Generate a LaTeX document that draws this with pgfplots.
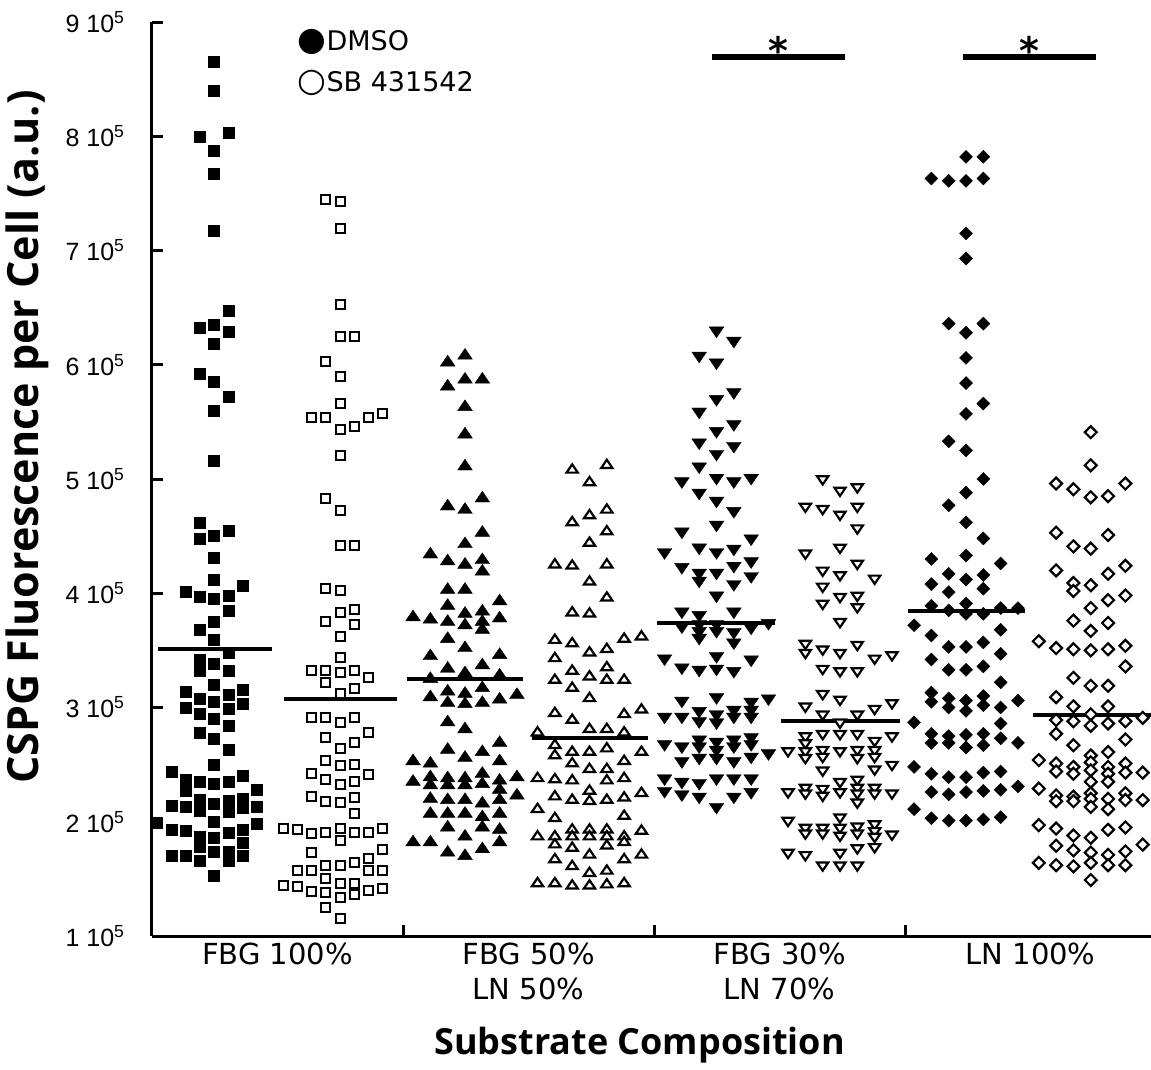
\documentclass[border=0pt]{standalone}
\usepackage{pgfplots}
\pgfplotsset{compat=1.18}
\usepackage{fontspec}
\setmainfont{DejaVu Sans}
\newfontfamily\helv{Liberation Sans}
\newfontfamily\osans{Open Sans}
\begin{document}
\begin{tikzpicture}
\useasboundingbox (-152pt,-133pt) rectangle (999pt,936pt);
\begin{axis}[
  at={(0pt,0pt)}, anchor=south west,
  scale only axis, width=999pt, height=914pt,
  xmin=0, xmax=3.98, ymin=1, ymax=9,
  clip=false,
  axis x line*=bottom, axis y line*=left,
  axis line style={-, line width=3pt},
  x axis line style={-}, y axis line style={-},
  tick align=inside,
  major tick length=11pt,
  tick style={line width=3pt, black},
  ytick={1,2,3,4,5,6,7,8,9},
  yticklabels={1 10\textsuperscript{5},2 10\textsuperscript{5},3 10\textsuperscript{5},4 10\textsuperscript{5},5 10\textsuperscript{5},6 10\textsuperscript{5},7 10\textsuperscript{5},8 10\textsuperscript{5},9 10\textsuperscript{5}},
  yticklabel style={font=\helv\fontsize{25}{28}\selectfont, xshift=-24pt},
  xtick={1,2,3}, xticklabels={,,},
  extra x ticks={0.5,1.5,2.5,3.5},
  extra x tick labels={FBG 100\%,{FBG 50\%\\LN 50\%},{FBG 30\%\\LN 70\%},LN 100\%},
  extra x tick style={major tick length=0pt},
  xticklabel style={align=center, font=\fontsize{29}{35}\selectfont, anchor=north, yshift=-3pt},
  ylabel={CSPG Fluorescence per Cell (a.u.)},
  ylabel style={font=\osans\bfseries\fontsize{43}{50}\selectfont, at={(axis description cs:-0.125,0.546)}, anchor=center},
  xlabel={Substrate Composition},
  xlabel style={font=\osans\bfseries\fontsize{36}{42}\selectfont, at={(axis description cs:0.488,-0.119)}, anchor=center},
]
% FBG 100% DMSO
\addplot[only marks, mark=square*, mark size=5.5pt, mark options={fill=black, draw=black}] table[x expr=\thisrow{k}*0.0566+0.247, y=v] {
k v
0 8.65
0 8.40
-1 8.00
1 8.03
0 7.87
0 7.67
0 7.17
1 6.47
-1 6.32
0 6.35
1 6.29
0 6.18
-1 5.92
0 5.85
1 5.72
0 5.60
0 5.16
-1 4.62
-1 4.48
0 4.50
1 4.55
0 4.31
0 4.12
2 4.07
-2 4.01
-1 3.97
0 3.95
1 3.98
1 3.85
0 3.75
-1 3.68
0 3.59
-1 3.42
1 3.48
-1 3.32
0 3.38
1 3.32
0 3.20
-2 3.14
2 3.16
-1 3.08
0 3.05
1 3.11
-2 3.00
-1 2.95
1 2.99
2 3.03
0 2.90
1 2.84
-1 2.78
0 2.73
1 2.63
0 2.50
-3 2.44
-2 2.37
-2 2.27
-1 2.35
0 2.33
1 2.35
2 2.40
3 2.28
-3 2.14
-2 2.13
-1 2.19
-1 2.10
0 2.16
1 2.18
1 2.09
2 2.20
2 2.12
3 2.13
0 2.00
-4 1.99
-3 1.93
-2 1.92
-1 1.87
0 1.86
1 1.90
2 1.93
3 1.98
-1 1.78
2 1.82
-3 1.70
-2 1.70
-1 1.66
0 1.74
1 1.74
1 1.66
2 1.70
0 1.53
};
% FBG 100% SB
\addplot[only marks, mark=square*, mark size=4.5pt, mark options={fill=white, draw=black, line width=2pt}] table[x expr=\thisrow{k}*0.0566+0.749, y=v] {
k v
-1 7.45
0 7.43
0 7.19
0 6.53
0 6.25
1 6.25
-1 6.03
0 5.90
0 5.66
-2 5.54
-1 5.54
0 5.43
1 5.46
2 5.54
3 5.57
0 5.21
-1 4.83
0 4.72
0 4.42
1 4.42
-1 4.04
0 4.02
0 3.83
1 3.86
-1 3.75
1 3.73
0 3.62
0 3.44
-2 3.32
-1 3.32
-1 3.22
0 3.31
1 3.32
1 3.17
2 3.26
0 3.12
-2 2.91
-1 2.91
0 2.87
1 2.91
2 2.78
-1 2.74
0 2.64
1 2.69
-1 2.54
0 2.49
1 2.50
-2 2.42
-1 2.37
0 2.33
1 2.35
2 2.41
-2 2.22
-1 2.18
0 2.17
1 2.21
1 2.07
-4 1.94
-3 1.93
-2 1.90
-1 1.91
0 1.94
0 1.84
1 1.91
2 1.91
3 1.94
-2 1.73
3 1.76
-1 1.62
0 1.62
1 1.64
2 1.68
-3 1.57
-2 1.57
2 1.57
3 1.57
-1 1.50
-4 1.44
-3 1.43
-2 1.39
-1 1.38
0 1.46
0 1.34
1 1.36
1 1.46
2 1.40
3 1.42
-1 1.25
0 1.15
};
% FBG 50% DMSO
\addplot[only marks, mark=triangle*, mark size=8.5pt, mark options={fill=black, draw=black, yscale=0.85}] table[x expr=\thisrow{k}*0.069+1.247, y=v] {
k v
0 6.08
-1 6.02
0 5.87
1 5.87
-1 5.81
0 5.63
0 5.39
0 5.11
1 4.83
-1 4.76
0 4.73
1 4.53
0 4.43
-2 4.34
-1 4.28
0 4.25
1 4.29
1 4.19
-1 4.03
0 4.03
-1 3.89
2 3.93
-3 3.79
-2 3.77
-1 3.75
0 3.82
0 3.72
1 3.84
1 3.75
1 3.68
2 3.78
-1 3.60
0 3.52
-2 3.45
2 3.46
1 3.37
-1 3.34
0 3.30
-2 3.25
2 3.28
-2 3.09
-1 3.14
-1 3.04
0 3.12
0 3.03
1 3.17
1 3.04
2 3.07
3 3.11
-1 2.87
0 2.81
-1 2.63
0 2.56
1 2.61
2 2.69
-3 2.53
-2 2.51
2 2.53
-3 2.35
-2 2.39
-2 2.32
-1 2.38
-1 2.32
0 2.38
0 2.32
1 2.42
1 2.33
2 2.36
2 2.28
3 2.39
-2 2.20
-1 2.19
0 2.19
1 2.16
2 2.19
3 2.23
-2 2.07
-1 2.07
0 2.07
1 2.04
2 2.07
-1 1.95
1 1.95
2 1.93
-3 1.82
-2 1.82
0 1.87
-1 1.73
0 1.70
1 1.76
2 1.82
};
% FBG 50% SB
\addplot[only marks, mark=triangle*, mark size=6.5pt, mark options={fill=white, draw=black, line width=2.2pt, yscale=0.85}] table[x expr=\thisrow{k}*0.069+1.743, y=v] {
k v
1 5.12
-1 5.08
0 4.97
1 4.73
0 4.68
-1 4.62
1 4.54
0 4.44
-2 4.25
-1 4.24
1 4.25
0 4.10
1 3.96
-1 3.83
0 3.82
-2 3.59
-1 3.56
0 3.48
1 3.51
2 3.60
3 3.62
-2 3.43
-1 3.32
0 3.27
1 3.35
1 3.24
2 3.24
-2 3.24
-1 3.17
0 3.08
-2 2.95
-1 2.89
2 2.94
3 2.98
-3 2.78
0 2.81
1 2.81
2 2.78
-2 2.67
-2 2.58
-1 2.61
0 2.61
1 2.64
2 2.53
3 2.61
-1 2.51
0 2.46
1 2.46
-3 2.38
-2 2.37
-1 2.36
1 2.36
2 2.38
-2 2.22
-1 2.19
0 2.27
0 2.18
1 2.19
2 2.21
3 2.25
-3 2.11
-2 2.03
2 2.05
-3 1.87
-2 1.87
-2 1.80
-1 1.93
-1 1.87
0 1.93
0 1.87
1 1.93
1 1.87
2 1.87
2 1.82
3 1.92
-1 1.77
1 1.79
-2 1.67
-1 1.61
0 1.71
2 1.67
3 1.71
0 1.55
1 1.57
-3 1.46
-2 1.46
-1 1.44
0 1.44
1 1.45
2 1.46
};
% FBG 30% DMSO
\addplot[only marks, mark=triangle*, mark size=8.5pt, mark options={fill=black, draw=black, rotate=180, yscale=0.85}] table[x expr=\thisrow{k}*0.069+2.249, y=v] {
k v
0 6.30
1 6.21
-1 6.08
0 6.02
1 5.76
0 5.70
-1 5.59
1 5.48
0 5.42
-1 5.32
1 5.29
0 5.22
-1 5.11
-2 4.98
0 5.01
1 4.98
2 5.01
-1 4.88
0 4.81
1 4.72
0 4.60
-2 4.54
2 4.48
-3 4.36
-1 4.40
0 4.36
1 4.39
-2 4.23
-1 4.18
-1 4.11
0 4.18
1 4.24
1 4.08
2 4.28
2 4.15
0 3.98
-2 3.84
-1 3.81
1 3.84
-2 3.71
-1 3.73
-1 3.67
-1 3.61
0 3.73
0 3.67
1 3.66
1 3.57
2 3.70
3 3.74
-3 3.43
-2 3.35
-1 3.33
0 3.45
0 3.34
1 3.32
2 3.42
-2 3.06
0 3.09
2 3.05
3 3.08
-3 2.92
-2 2.92
-1 2.97
-1 2.88
0 2.94
0 2.87
1 2.98
1 2.92
2 2.98
2 2.92
-3 2.68
-2 2.66
-1 2.72
-1 2.66
0 2.70
0 2.63
1 2.72
1 2.66
2 2.74
2 2.68
3 2.60
-2 2.53
-1 2.56
0 2.56
1 2.53
2 2.57
-3 2.38
-2 2.35
-1 2.34
0 2.38
1 2.38
2 2.38
-3 2.27
-2 2.24
-1 2.22
1 2.22
2 2.26
0 2.13
};
% FBG 30% SB
\addplot[only marks, mark=triangle*, mark size=6.5pt, mark options={fill=white, draw=black, line width=2.2pt, rotate=180, yscale=0.85}] table[x expr=\thisrow{k}*0.069+2.741, y=v] {
k v
-1 5.00
0 4.90
1 4.93
-2 4.76
-1 4.74
0 4.69
1 4.76
1 4.57
-2 4.35
0 4.40
-1 4.20
0 4.16
1 4.26
2 4.13
-1 4.06
-1 3.91
0 3.97
1 3.98
1 3.88
0 3.75
-2 3.56
-2 3.48
-1 3.51
0 3.48
1 3.55
2 3.43
3 3.46
-1 3.34
0 3.32
1 3.32
-1 3.12
-2 3.01
0 3.07
2 2.99
3 3.04
-1 2.94
1 2.94
0 2.87
-2 2.75
-2 2.69
-1 2.77
0 2.77
1 2.77
2 2.71
3 2.75
-3 2.62
-2 2.62
-2 2.56
-1 2.63
-1 2.57
0 2.62
1 2.63
1 2.56
2 2.63
2 2.57
3 2.50
-1 2.45
2 2.46
0 2.35
1 2.37
-3 2.26
-2 2.30
-2 2.25
-1 2.29
-1 2.23
0 2.26
1 2.30
1 2.25
2 2.30
2 2.25
3 2.25
1 2.17
-3 2.01
0 2.04
-2 1.95
-2 1.90
-1 1.95
-1 1.90
0 1.95
0 1.88
1 1.96
1 1.90
2 1.98
2 1.92
2 1.87
3 1.89
-3 1.73
-2 1.71
0 1.73
1 1.77
2 1.78
-1 1.62
0 1.62
1 1.62
};
% LN 100% DMSO
\addplot[only marks, mark=square*, mark size=4.6pt, mark options={fill=black, draw=black, rotate=45}] table[x expr=\thisrow{k}*0.069+3.243, y=v] {
k v
0 7.82
1 7.82
-2 7.63
-1 7.61
0 7.61
1 7.63
0 7.15
0 6.93
-1 6.36
0 6.28
1 6.36
0 6.06
0 5.84
0 5.57
1 5.66
-1 5.33
0 5.25
1 5.00
0 4.88
-1 4.77
0 4.62
1 4.48
-2 4.30
0 4.33
2 4.26
-1 4.17
0 4.12
1 4.16
-2 4.08
-1 4.01
1 4.04
-2 3.89
-1 3.85
0 3.91
0 3.82
1 3.82
2 3.87
3 3.87
-3 3.72
-2 3.63
2 3.68
-1 3.53
0 3.53
1 3.57
2 3.47
-2 3.42
-1 3.33
0 3.33
1 3.36
2 3.22
-2 3.13
-2 3.05
-1 3.08
-1 3.00
0 3.06
0 2.97
1 3.10
1 3.02
2 3.00
3 3.06
-3 2.87
2 2.86
-2 2.77
-2 2.69
-1 2.75
-1 2.69
0 2.76
0 2.65
1 2.77
1 2.67
2 2.73
3 2.69
-3 2.48
-2 2.42
-1 2.39
0 2.39
1 2.43
2 2.44
3 2.31
-2 2.26
-1 2.24
0 2.26
1 2.27
2 2.28
-3 2.11
-2 2.03
-1 2.01
0 2.01
1 2.02
2 2.04
};
% LN 100% SB
\addplot[only marks, mark=square*, mark size=4.2pt, mark options={fill=white, draw=black, line width=2.2pt, rotate=45}] table[x expr=\thisrow{k}*0.069+3.740, y=v] {
k v
0 5.41
0 5.12
-2 4.96
-1 4.91
0 4.84
1 4.85
2 4.96
-2 4.53
-1 4.41
0 4.39
1 4.51
-2 4.20
-1 4.09
-1 4.02
0 4.07
1 4.17
2 4.24
0 3.87
1 3.94
2 3.98
-1 3.76
0 3.67
1 3.74
-3 3.58
-2 3.52
-1 3.51
0 3.50
1 3.51
2 3.54
2 3.36
-1 3.26
0 3.19
1 3.19
-2 3.09
-1 3.01
1 3.01
0 2.94
-2 2.89
-1 2.88
0 2.84
1 2.86
2 2.88
3 2.91
-2 2.77
-1 2.67
2 2.72
0 2.58
1 2.61
-3 2.54
-2 2.51
-2 2.44
-1 2.48
-1 2.42
0 2.52
0 2.45
1 2.48
1 2.42
2 2.51
2 2.43
3 2.43
0 2.35
1 2.35
-3 2.29
-2 2.23
-2 2.18
-1 2.22
-1 2.18
0 2.25
0 2.20
1 2.20
2 2.25
2 2.19
3 2.19
0 2.13
1 2.11
-3 1.97
-2 1.94
-1 1.88
0 1.86
1 1.93
2 1.95
-2 1.79
-1 1.75
0 1.73
1 1.71
2 1.74
3 1.80
-3 1.64
-2 1.62
-1 1.61
0 1.64
1 1.62
2 1.62
0 1.49
};
% medians
\addplot[no marks, line width=3.8pt] coordinates {(0.024,3.51) (0.478,3.51)};
\addplot[no marks, line width=3.8pt] coordinates {(0.526,3.075) (0.976,3.075)};
\addplot[no marks, line width=3.8pt] coordinates {(1.016,3.25) (1.478,3.25)};
\addplot[no marks, line width=3.8pt] coordinates {(1.514,2.734) (1.976,2.734)};
\addplot[no marks, line width=3.8pt] coordinates {(2.012,3.741) (2.482,3.741)};
\addplot[no marks, line width=3.8pt] coordinates {(2.506,2.885) (2.980,2.885)};
\addplot[no marks, line width=3.8pt] coordinates {(3.012,3.846) (3.478,3.846)};
\addplot[no marks, line width=3.8pt] coordinates {(3.510,2.935) (3.980,2.935)};
% significance bars
\addplot[no marks, line width=6.5pt] coordinates {(2.231,8.694) (2.761,8.694)};
\addplot[no marks, line width=6.5pt] coordinates {(3.231,8.694) (3.761,8.694)};
\node[font=\bfseries\fontsize{38}{38}\selectfont, anchor=base] at (axis cs:2.496,8.63) {*};
\node[font=\bfseries\fontsize{38}{38}\selectfont, anchor=base] at (axis cs:3.496,8.63) {*};
% legend
\node[anchor=west, font=\fontsize{27}{30}\selectfont, inner sep=0pt] at (axis cs:0.58,8.825) {{\fontsize{33}{30}\selectfont ●}DMSO};
\node[anchor=west, font=\fontsize{27}{30}\selectfont, inner sep=0pt] at (axis cs:0.58,8.466) {{\fontsize{33}{30}\selectfont ○}SB 431542};
\end{axis}
\end{tikzpicture}
\end{document}
